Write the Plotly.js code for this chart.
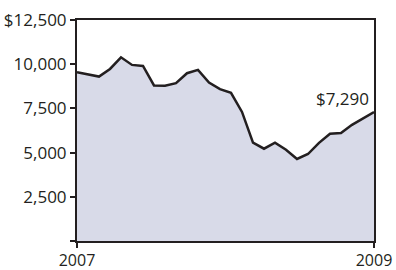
<!DOCTYPE html>
<html>
<head>
<meta charset="utf-8">
<script src="https://cdn.plot.ly/plotly-3.0.1.min.js"></script>
<style>html,body{margin:0;padding:0;background:#fff;}#chart{width:396px;height:270px;}</style>
</head>
<body>
<div id="chart"></div>
<script>
const values = [9540, 9420, 9300, 9730, 10390, 9960, 9900, 8800, 8780, 8930,
                9490, 9680, 8960, 8590, 8380, 7300, 5560, 5220, 5560, 5160,
                4640, 4920, 5550, 6070, 6110, 6570, 6910, 7290];
const startYear = 2007;
const endYear = 2009;
const xTickVals = [2007, 2009];
const xTickText = ["2007", "2009"];
const yTickVals = [0, 2500, 5000, 7500, 10000, 12500];
const yTickText = ["", "2,500", "5,000", "7,500", "10,000", "$12,500"];
const endLabel = "$7,290";

const n = values.length;
const xs = values.map((_, i) => startYear + (endYear - startYear) * i / (n - 1));

const ink = '#231f20';
const trace = {
  x: xs, y: values, type: 'scatter', mode: 'lines',
  fill: 'tozeroy', fillcolor: '#d8dae8',
  line: {color: ink, width: 2.5},
  hoverinfo: 'skip'
};

const font = {family: '"Open Sans", "Noto Sans", sans-serif', size: 17, color: ink};
const xfont = {family: '"Open Sans", "Noto Sans", sans-serif', size: 16, color: ink};

const layout = {
  width: 396, height: 270,
  margin: {l: 77, r: 21.5, t: 20, b: 28.5, pad: 0},
  paper_bgcolor: '#fff', plot_bgcolor: '#fff',
  showlegend: false,
  font: font,
  xaxis: {
    range: [startYear, endYear], tickmode: 'array', tickvals: xTickVals, ticktext: xTickText,
    showgrid: false, zeroline: false, showline: true, linecolor: ink, linewidth: 2, mirror: true,
    ticks: 'outside', ticklen: 5, tickwidth: 2, tickcolor: ink, tickfont: xfont,
    ticklabelstandoff: -1
  },
  yaxis: {
    range: [0, 12500], tickmode: 'array', tickvals: yTickVals, ticktext: yTickText,
    showgrid: false, zeroline: false, showline: true, linecolor: ink, linewidth: 2, mirror: true,
    ticks: 'outside', ticklen: 5, tickwidth: 2, tickcolor: ink, tickfont: font
  },
  annotations: [{
    x: xs[n - 1], y: values[n - 1], xref: 'x', yref: 'y', text: endLabel,
    showarrow: false, xanchor: 'right', yanchor: 'bottom', xshift: -3, yshift: 0,
    font: font
  }]
};

Plotly.newPlot('chart', [trace], layout, {displayModeBar: false, staticPlot: true});
</script>
</body>
</html>
